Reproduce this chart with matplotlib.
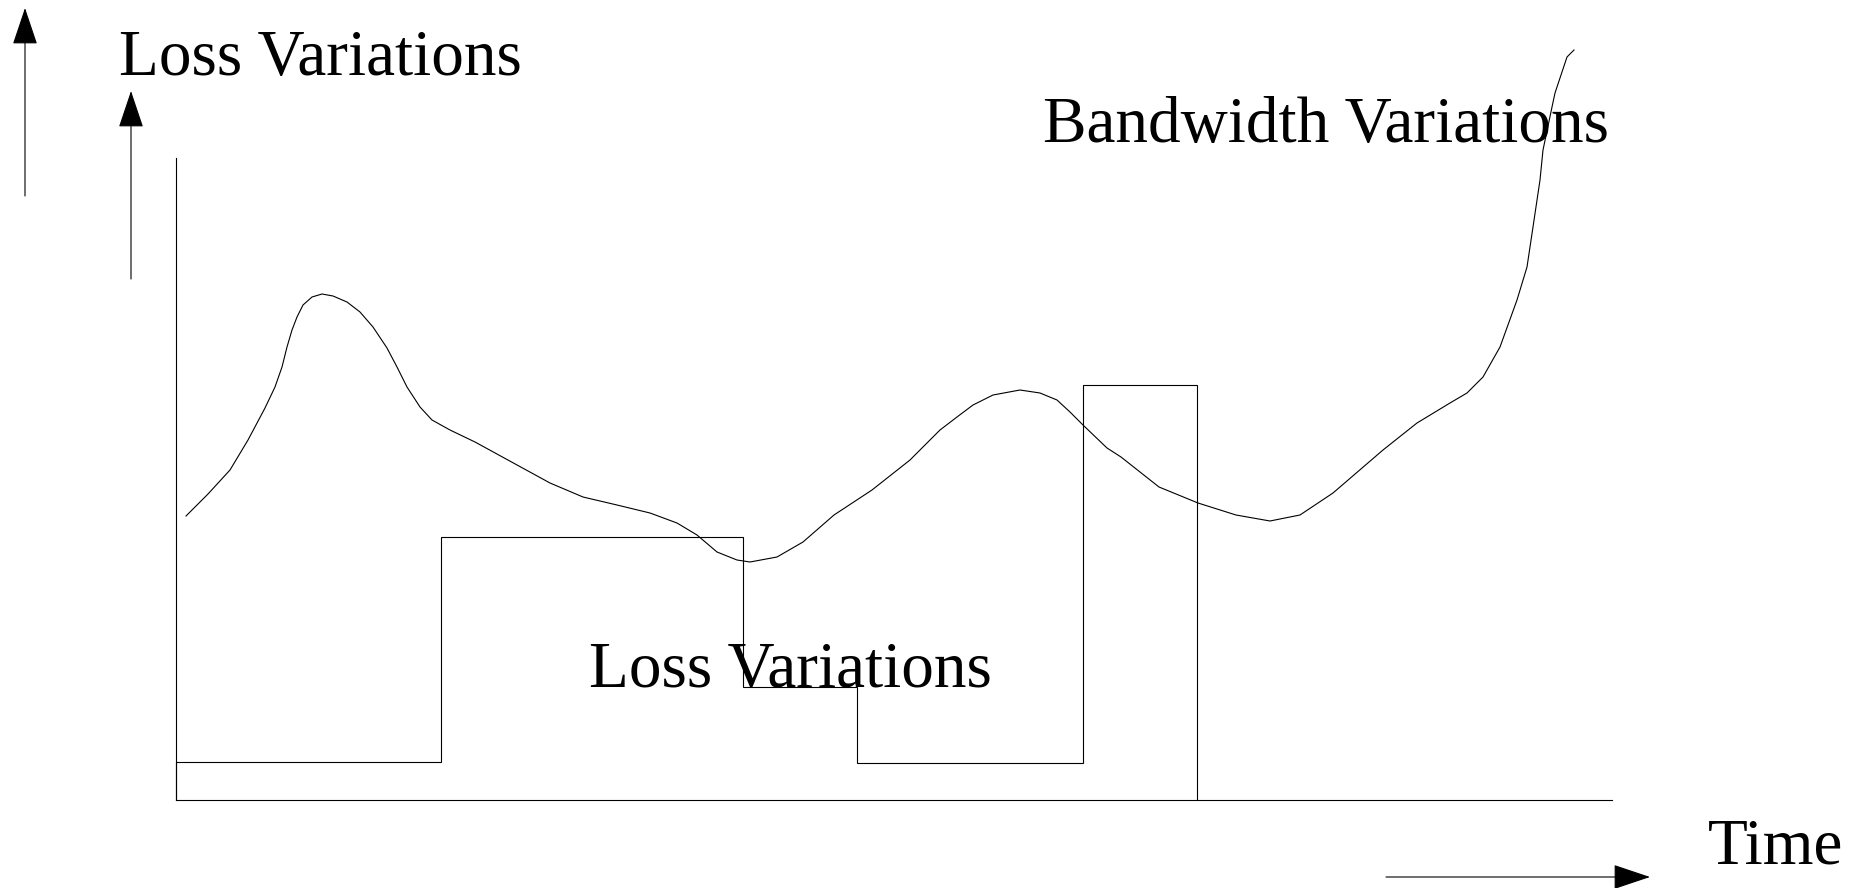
import numpy as np
import matplotlib.pyplot as plt

# Courbe "Bandwidth Variations" (t = temps, v = valeur, origine au coin des axes)
bw_t = [10, 32, 54, 72, 89, 99, 106, 111, 116, 121, 127, 136, 146, 157, 171, 184,
        197, 211, 221, 231, 244, 256, 274, 299, 374, 407, 441, 474, 501, 521, 541,
        561, 574, 601, 627, 658, 696, 734, 764, 781, 797, 817, 844, 864, 881, 894,
        907, 931, 945, 983, 1022, 1060, 1094, 1124, 1157, 1207, 1241, 1274, 1291,
        1307, 1324, 1341, 1351, 1357, 1364, 1367, 1376, 1379, 1391, 1398]
bw_v = [284, 306, 330, 360, 392, 413, 433, 453, 470, 483, 495, 503, 506, 504, 498, 488,
        473, 452, 433, 413, 393, 380, 370, 358, 317, 303, 295, 287, 277, 265, 248,
        240, 238, 243, 258, 285, 310, 340, 370, 383, 395, 405, 410, 407, 400, 388,
        375, 352, 343, 313, 297, 285, 279, 285, 307, 350, 377, 397, 407,
        423, 453, 500, 533, 573, 620, 650, 693, 707, 743, 750]

# Fonction en escalier "Loss Variations"
loss_edges = [0, 265, 567, 681, 907, 1021]
loss_levels = [38, 263, 113, 37, 415]

# Textes
label_loss = "Loss Variations"
label_bw = "Bandwidth Variations"
label_time = "Time"

fig = plt.figure(figsize=(18.64, 8.88), dpi=100)
ax = fig.add_axes([0, 0, 1, 1])
ax.set_xlim(-176, 1688)
ax.set_ylim(-88, 800)
ax.axis('off')

lw = 0.8
col = 'black'

# Axes du schéma
ax.plot([0, 0], [0, 642], color=col, lw=lw)
ax.plot([0, 1436], [0, 0], color=col, lw=lw)

# Courbes
ax.plot(bw_t, bw_v, color=col, lw=lw)
ax.stairs(loss_levels, loss_edges, baseline=0, color=col, lw=lw)

# Flèches
arrow_style = dict(arrowstyle='-|>,head_length=1.19,head_width=0.4',
                   color=col, lw=lw, mutation_scale=20, shrinkA=0, shrinkB=0)
ax.annotate('', xy=(-151, 792), xytext=(-151, 604), arrowprops=arrow_style)
ax.annotate('', xy=(-45, 709), xytext=(-45, 521), arrowprops=arrow_style)
ax.annotate('', xy=(1474, -77), xytext=(1210, -77), arrowprops=arrow_style)

# Étiquettes
font = dict(family='Liberation Serif', size=47, ha='left', va='baseline')
ax.text(-57, 725, label_loss, **font)
ax.text(867, 658, label_bw, **font)
ax.text(413, 113, label_loss, **font)
ax.text(1532, -63, label_time, **font)

fig.savefig('out.png', dpi=100)
